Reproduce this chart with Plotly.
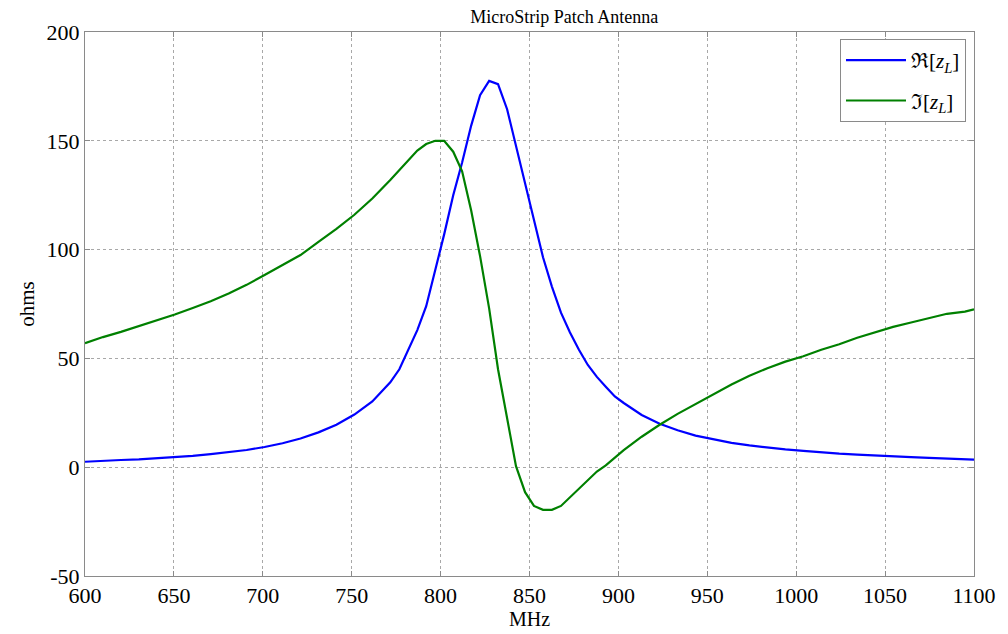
import plotly.graph_objects as go

freq_mhz = [600.0, 610.1, 620.2, 630.3, 640.4, 650.5, 660.6, 670.7, 680.8, 690.9,
            701.0, 711.1, 721.2, 731.3, 741.4, 751.5, 761.6, 771.7, 776.8, 781.8,
            786.9, 791.9, 797.0, 802.0, 807.1, 812.1, 817.2, 822.2, 827.3, 832.3,
            837.4, 842.4, 847.5, 852.5, 857.6, 862.6, 867.7, 872.7, 877.8, 882.8,
            887.9, 892.9, 898.0, 903.0, 913.1, 923.2, 933.3, 943.4, 953.5, 963.6,
            973.7, 983.8, 993.9, 1004.0, 1014.1, 1024.2, 1034.3, 1044.4, 1054.5, 1064.6,
            1074.7, 1084.8, 1094.9, 1100.0]

re_zl = [2.5, 3.0, 3.3, 3.6, 4.1, 4.6, 5.2, 6.0, 6.8, 7.9,
         9.3, 11.0, 13.2, 16.0, 19.5, 24.2, 30.2, 39.0, 45.0, 54.0,
         63.0, 74.0, 90.0, 107.0, 125.0, 140.0, 157.0, 171.0, 177.5, 176.0,
         164.5, 147.5, 130.0, 112.5, 96.5, 83.0, 71.0, 62.0, 54.0, 47.0,
         41.5, 37.0, 32.5, 29.5, 24.0, 20.0, 17.0, 14.5, 12.8, 11.2,
         10.0, 9.0, 8.2, 7.5, 6.8, 6.2, 5.8, 5.3, 5.0, 4.6,
         4.3, 4.0, 3.7, 3.5]

im_zl = [57.0, 59.8, 62.2, 64.8, 67.5, 70.2, 73.2, 76.3, 79.8, 83.8,
         88.3, 93.0, 97.5, 103.5, 109.5, 116.0, 123.5, 132.0, 136.5, 141.0,
         145.5, 148.5, 150.0, 150.0, 145.0, 136.0, 118.0, 97.0, 73.0, 45.0,
         22.0, 0.5, -11.5, -17.8, -19.6, -19.6, -17.8, -14.0, -10.0, -6.0,
         -2.0, 0.8, 4.3, 7.8, 14.0, 19.5, 24.5, 29.0, 33.5, 38.0,
         42.0, 45.5, 48.5, 51.0, 54.0, 56.5, 59.5, 62.0, 64.5, 66.5,
         68.5, 70.5, 71.5, 72.5]

x_ticks = [600, 650, 700, 750, 800, 850, 900, 950, 1000, 1050, 1100]
y_ticks = [-50, 0, 50, 100, 150, 200]

FONT = "Liberation Serif"

fig = go.Figure()
fig.add_trace(go.Scatter(x=freq_mhz, y=re_zl, mode="lines",
                         line=dict(color="#0000FF", width=2.2),
                         legendgroup="re",
                         name="\u211C[<i>z</i><sub><i>L</i></sub>]"))
fig.add_trace(go.Scatter(x=freq_mhz, y=im_zl, mode="lines",
                         line=dict(color="#008000", width=2.2),
                         legendgroup="im",
                         name="\u2111[<i>z</i><sub><i>L</i></sub>]"))

axis_common = dict(showline=True, linecolor="#8a8a8a", linewidth=1, mirror="ticks",
                   showgrid=True, gridcolor="#a8a8a8", griddash="dot", gridwidth=1,
                   ticks="inside", ticklen=5, tickcolor="#8a8a8a",
                   zeroline=False, tickfont=dict(family=FONT, size=22, color="black"))

fig.update_xaxes(range=[600, 1100], tickvals=x_ticks,
                 ticktext=[str(v) for v in x_ticks],
                 title=dict(text="MHz", font=dict(family=FONT, size=20, color="black"),
                            standoff=0),
                 **axis_common)
fig.update_yaxes(range=[-50, 200], tickvals=y_ticks,
                 ticktext=[str(v) for v in y_ticks],
                 title=dict(text="ohms", font=dict(family=FONT, size=21, color="black"),
                            standoff=6),
                 **axis_common)

fig.update_layout(
    width=1000, height=626,
    margin=dict(l=77, r=30, t=23, b=54),
    paper_bgcolor="white", plot_bgcolor="white",
    title=dict(text="MicroStrip Patch Antenna", x=0.539, xref="paper", xanchor="center",
               yref="container", y=0.996, yanchor="top", pad=dict(t=0, b=0),
               font=dict(family=FONT, size=18, color="black")),
    legend=dict(x=0.991, y=0.987, xanchor="right", yanchor="top",
                bgcolor="white", bordercolor="#8a8a8a", borderwidth=1,
                font=dict(family=FONT, size=21, color="black"),
                traceorder="grouped", tracegroupgap=10, itemwidth=60),
    showlegend=True,
)

fig.write_html("out.html")
